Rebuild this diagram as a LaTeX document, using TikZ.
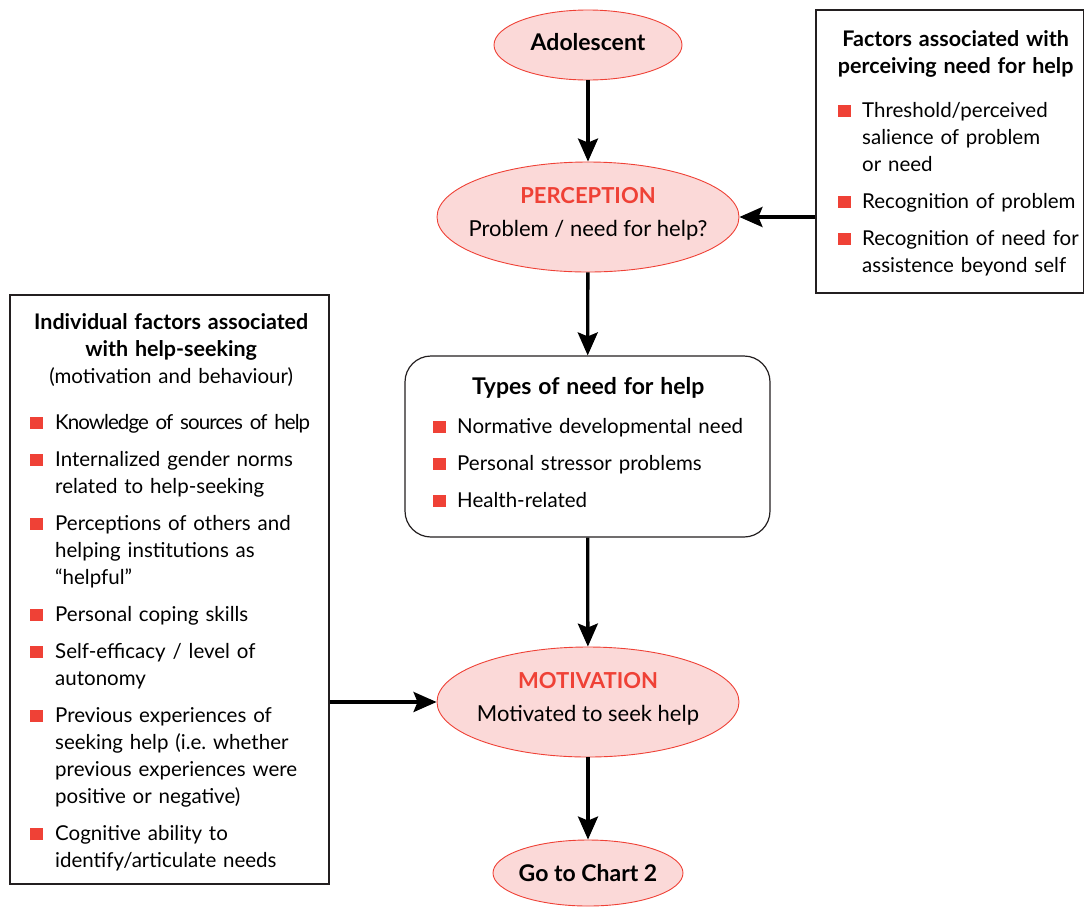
\documentclass[tikz,border=0pt]{standalone}
\usepackage{fontspec}
\setmainfont{Lato}
\usetikzlibrary{shapes.geometric,arrows.meta}
\definecolor{accent}{HTML}{EF4136}
\definecolor{pinkfill}{HTML}{FBD9D8}
\definecolor{frame}{HTML}{231F20}
\newcommand\bitem[2][25pt]{\par\vspace{10pt}\noindent\hangindent=#1\hangafter=1\makebox[#1][l]{\textcolor{accent}{\rule{12.5pt}{12.5pt}}}#2}
\newcommand\firstline{\rule{0pt}{20pt}}
\newcommand\lowstrut[1]{\rule[-#1]{0pt}{1pt}}
\newcommand\ptitlefont{\fontsize{21.5}{27}\selectfont\bfseries}
\frenchspacing
\begin{document}
\begin{tikzpicture}[x=1pt,y=-1pt,
  every node/.style={font=\fontsize{20.5}{27}\selectfont},
  oval/.style={ellipse,draw=accent,line width=0.9pt,fill=pinkfill,inner xsep=-25pt,inner ysep=0pt,align=center,
    font=\fontsize{22}{30}\selectfont},
  panel/.style={draw=frame,line width=1.2pt,inner sep=0pt},
  content/.style={anchor=north west,inner sep=0pt,align=left},
  flow/.style={-{Stealth[length=23pt,width=20pt,inset=4pt]},line width=3.3pt}
]
\useasboundingbox (0,0) rectangle (1084,906);

% ovals
\node[oval,minimum width=188pt,minimum height=70pt] (ado) at (588,45)
  {\fontsize{23}{30}\selectfont\textbf{Adolescent}\lowstrut{6pt}};
\node[oval,minimum width=302pt,minimum height=110pt] (per) at (588,217)
  {\textcolor{accent}{\textbf{PERCEPTION}}\\[3pt]Problem / need for help?\lowstrut{11pt}};
\node[oval,minimum width=302pt,minimum height=110pt] (mot) at (588,702)
  {\textcolor{accent}{\textbf{MOTIVATION}}\\[3pt]Motivated to seek help\lowstrut{11pt}};
\node[oval,minimum width=190pt,minimum height=66pt] (go) at (588,873)
  {\fontsize{23}{30}\selectfont\textbf{Go to Chart 2}};

% right panel
\node[panel,minimum width=268pt,minimum height=283pt] (fac) at (950,151.5) {};
\node[content,text width=244pt] (factxt) at (838,26) {\firstline
  {\centering\hspace*{-9pt}{\ptitlefont Factors associated with}\break
   \hspace*{-9pt}{\ptitlefont perceiving need for help}\par}
  \vspace{7pt}
  \bitem[24pt]{Threshold/perceived\break salience of problem\break or need}
  \bitem[24pt]{Recognition of problem}
  \bitem[24pt]{Recognition of need for\break assistence beyond self}\par};

% types panel
\node[panel,rounded corners=26pt,minimum width=365pt,minimum height=181pt] (typ) at (587.5,446.5) {};
\node[content,text width=340pt] (typtxt) at (433,374) {\firstline
  {\centering\hspace*{-30pt}{\fontsize{23}{27}\selectfont\bfseries Types of need for help}\par}
  \vspace{2pt}
  \bitem[24pt]{Normative developmental need}
  \bitem[24pt]{Personal stressor problems}
  \bitem[24pt]{Health-related}\par};

% left panel
\node[panel,minimum width=319pt,minimum height=589pt] (ind) at (169.5,589.5) {};
\node[content,text width=300pt] (indtxt) at (30,309) {\firstline
  {\centering\hspace*{-18pt}{\ptitlefont Individual factors associated}\break
   \hspace*{-18pt}{\ptitlefont with help-seeking}\break
   \hspace*{-18pt}(motivation and behaviour)\par}
  \vspace{9pt}
  \bitem{{\addfontfeature{LetterSpace=-4.5}Knowledge of sources of help}}
  \bitem{Internalized gender norms\break related to help-seeking}
  \bitem{Perceptions of others and\break helping institutions as\break “helpful”}
  \bitem{Personal coping skills}
  \bitem{Self-efficacy / level of\break autonomy}
  \bitem{Previous experiences of\break seeking help (i.e. whether\break previous experiences were\break positive or negative)}
  \bitem{Cognitive ability to\break identify/articulate needs}\par};

% connectors
\draw[flow] (ado) -- (per);
\draw[flow] (per) -- (typ);
\draw[flow] (typ) -- (mot);
\draw[flow] (mot) -- (go);
\draw[flow] (fac.west |- per) -- (per.east);
\draw[flow] (ind.east |- mot) -- (mot.west);
\end{tikzpicture}
\end{document}
